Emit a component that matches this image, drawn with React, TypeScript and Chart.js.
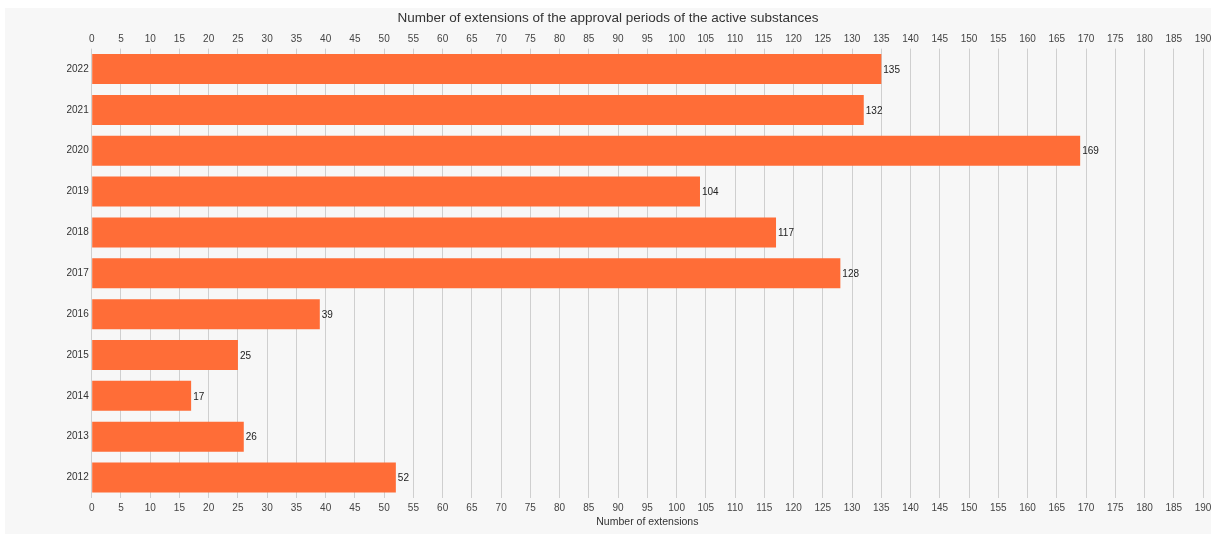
import React, { useEffect, useRef } from "react";
import { Chart, registerables } from "chart.js";

Chart.register(...registerables);

const years = ["2022", "2021", "2020", "2019", "2018", "2017", "2016", "2015", "2014", "2013", "2012"];
const extensions = [135, 132, 169, 104, 117, 128, 39, 25, 17, 26, 52];
const axisMin = 0;
const axisMax = 190;
const axisStep = 5;
const chartTitle = "Number of extensions of the approval periods of the active substances";
const xTitle = "Number of extensions";

const FONT = "'Liberation Sans', Arial, Helvetica, sans-serif";

const valueLabels = {
  id: "valueLabels",
  afterDatasetsDraw(chart: any) {
    const ctx = chart.ctx;
    const meta = chart.getDatasetMeta(0);
    ctx.save();
    ctx.font = `10px ${FONT}`;
    ctx.fillStyle = "#222";
    ctx.textAlign = "left";
    ctx.textBaseline = "middle";
    meta.data.forEach((el: any, i: number) => {
      ctx.fillText(String(chart.data.datasets[0].data[i]), el.x + 2, el.y + 1);
    });
    ctx.restore();
  },
};

export default function App() {
  const ref = useRef<HTMLCanvasElement | null>(null);
  useEffect(() => {
    if (!ref.current) return;
    const tickFont = { family: FONT, size: 10 };
    const chart = new Chart(ref.current, {
      type: "bar",
      data: {
        labels: years,
        datasets: [
          {
            data: extensions,
            backgroundColor: "#ff6d37",
            borderWidth: 0,
            categoryPercentage: 1,
            barPercentage: 0.734,
            xAxisID: "x",
          },
        ],
      },
      options: {
        indexAxis: "y",
        animation: false,
        responsive: false,
        maintainAspectRatio: false,
        layout: { padding: { left: 0, right: 0, top: 0, bottom: 0 } },
        plugins: {
          legend: { display: false },
          tooltip: { enabled: false },
          title: {
            display: true,
            text: chartTitle,
            color: "#333",
            font: { family: FONT, size: 13.5, weight: "normal" },
            padding: { top: 2, bottom: 4 },
          },
        },
        scales: {
          x: {
            position: "bottom",
            min: axisMin,
            max: axisMax,
            grid: { color: "#cfcfcf", drawTicks: false, lineWidth: 1 },
            border: { display: false },
            ticks: { stepSize: axisStep, color: "#444", font: tickFont, padding: 4, maxRotation: 0, autoSkip: false },
            title: { display: true, text: xTitle, color: "#333", font: { family: FONT, size: 10.5 }, padding: { top: 0, bottom: 6 } },
            afterFit: (s: any) => { s.height = 36; s.paddingRight = 8; s.paddingLeft = 0; },
          },
          xTop: {
            type: "linear",
            position: "top",
            min: axisMin,
            max: axisMax,
            grid: { display: false, drawTicks: false },
            border: { display: false },
            ticks: { stepSize: axisStep, color: "#444", font: tickFont, padding: 3, maxRotation: 0, autoSkip: false },
            afterFit: (s: any) => { s.height = 18.4; s.paddingRight = 8; s.paddingLeft = 0; },
          },
          y: {
            grid: { display: false, drawTicks: false },
            border: { display: false },
            ticks: { color: "#333", font: tickFont, padding: 3 },
            afterFit: (s: any) => { s.width = 86.7; },
          },
        },
      } as any,
      plugins: [valueLabels],
    });
    return () => chart.destroy();
  }, []);
  return (
    <div style={{ position: "fixed", left: 0, top: 0, width: 1211, height: 534, background: "#fff" }}>
      <div style={{ position: "absolute", left: 5, top: 8, width: 1206, height: 526, background: "#f7f7f7" }}>
        <canvas ref={ref} width={1206} height={526} style={{ display: "block" }} />
      </div>
    </div>
  );
}
